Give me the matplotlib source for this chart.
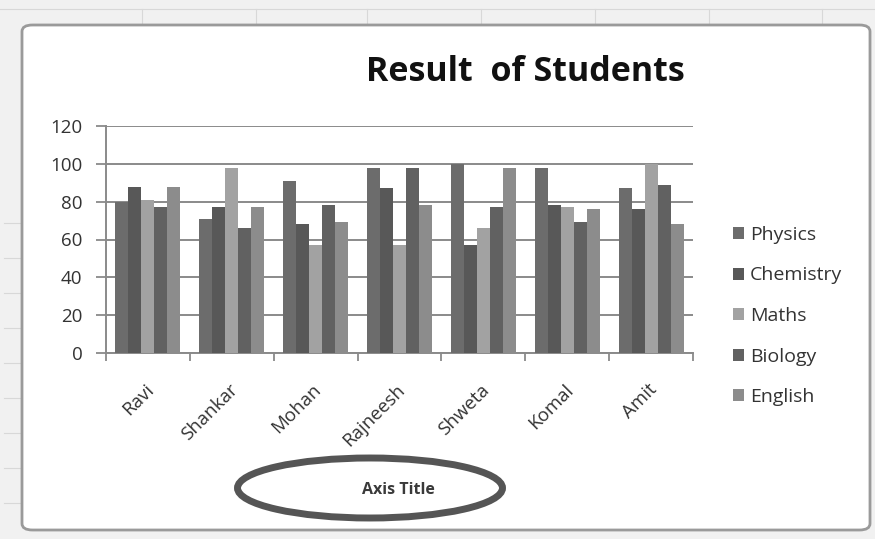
import numpy as np
import matplotlib
matplotlib.use("Agg")
import matplotlib.pyplot as plt
from matplotlib.patches import FancyBboxPatch, Ellipse
from matplotlib.lines import Line2D

students = ["Ravi", "Shankar", "Mohan", "Rajneesh", "Shweta", "Komal", "Amit"]
physics = [80, 71, 91, 98, 100, 98, 87]
chemistry = [88, 77, 68, 87, 57, 78, 76]
maths = [81, 98, 57, 57, 66, 77, 100]
biology = [77, 66, 78, 98, 77, 69, 89]
english = [88, 77, 69, 78, 98, 76, 68]

subjects = ["Physics", "Chemistry", "Maths", "Biology", "English"]
colores = ["#6c6c6c", "#585858", "#a2a2a2", "#616161", "#8c8c8c"]
y_ticks = [0, 20, 40, 60, 80, 100, 120]

plt.rcParams['font.family'] = ['Open Sans', 'DejaVu Sans']

fig = plt.figure(figsize=(8.75, 5.39), dpi=100)
fig.patch.set_facecolor("#f1f1f1")

# lineas de la hoja de calculo detras del grafico
fig.add_artist(Line2D([0, 1], [1 - 9/539, 1 - 9/539], color="#d8d8d8",
                      linewidth=0.8, zorder=-10))
for xs in [142, 256, 367, 481, 595, 709, 822]:
    fig.add_artist(Line2D([xs/875, xs/875], [1 - 9/539, 1 - 25/539],
                          color="#d8d8d8", linewidth=0.8, zorder=-10))
for ys in [223, 258, 293, 328, 363, 398, 433, 468, 503]:
    fig.add_artist(Line2D([4/875, 20/875], [1 - ys/539, 1 - ys/539],
                          color="#d8d8d8", linewidth=0.8, zorder=-10))

# marco tipo Excel
marco = FancyBboxPatch((22/875, 9/539), 848/875, 505/539,
                       boxstyle="round,pad=0,rounding_size=0.012",
                       transform=fig.transFigure, facecolor="white",
                       edgecolor="#9a9a9a", linewidth=2, zorder=-5)
fig.patches.append(marco)

ax = fig.add_axes([106/875, 1 - 353/539, 587/875, 227/539])
ax.set_facecolor("none")
ax.set_zorder(2)

series = [physics, chemistry, maths, biology, english]
x = np.arange(len(students))
ancho = 0.155
for i, (vals, nombre, color) in enumerate(zip(series, subjects, colores)):
    ax.bar(x + (i - 2) * ancho, vals, width=ancho, color=color, label=nombre, zorder=3)

ax.set_xlim(-0.5, len(students) - 0.5)
ax.set_ylim(0, 120)
ax.set_yticks(y_ticks)
ax.set_yticklabels([str(v) for v in y_ticks], fontsize=13.5, color="#333333")
ax.yaxis.grid(True, color="#8a8a8a", linewidth=1.4, zorder=0)
ax.tick_params(axis='y', length=7, width=1.3, color="#8a8a8a", pad=10)

ax.set_xticks(x - 0.04)
ax.set_xticklabels(students, rotation=45, ha='right', rotation_mode='anchor',
                   fontsize=13.5, color="#333333")
ax.tick_params(axis='x', which='major', length=0, pad=20)
ax.set_xticks(np.arange(len(students) + 1) - 0.5, minor=True)
ax.tick_params(axis='x', which='minor', length=6, width=1.3, color="#8a8a8a")

for lado in ['top', 'right']:
    ax.spines[lado].set_visible(False)
for lado in ['left', 'bottom']:
    ax.spines[lado].set_color("#8a8a8a")
    ax.spines[lado].set_linewidth(1.4)

fig.text(525/875, 1 - 72/539, "Result  of Students", ha='center', va='center',
         fontsize=24.5, fontweight='bold', color="#111111")

ley = ax.legend(loc='center left', bbox_to_anchor=(725/875, 1 - 316/539),
                bbox_transform=fig.transFigure, frameon=False, borderaxespad=0,
                fontsize=14, handlelength=0.57, handleheight=0.57,
                handletextpad=0.31, labelspacing=1.16)
for t in ley.get_texts():
    t.set_color("#333333")

# titulo del eje dentro de la elipse
elipse = Ellipse((370/875, 1 - 488/539), 265/875, 60/539,
                 transform=fig.transFigure, facecolor="white",
                 edgecolor="#555555", linewidth=5)
fig.patches.append(elipse)
fig.text(398/875, 1 - 490/539, "Axis Title", ha='center', va='center',
         fontsize=11.5, fontweight='bold', color="#3a3a3a")

fig.savefig("out.png", dpi=100, facecolor=fig.get_facecolor())
